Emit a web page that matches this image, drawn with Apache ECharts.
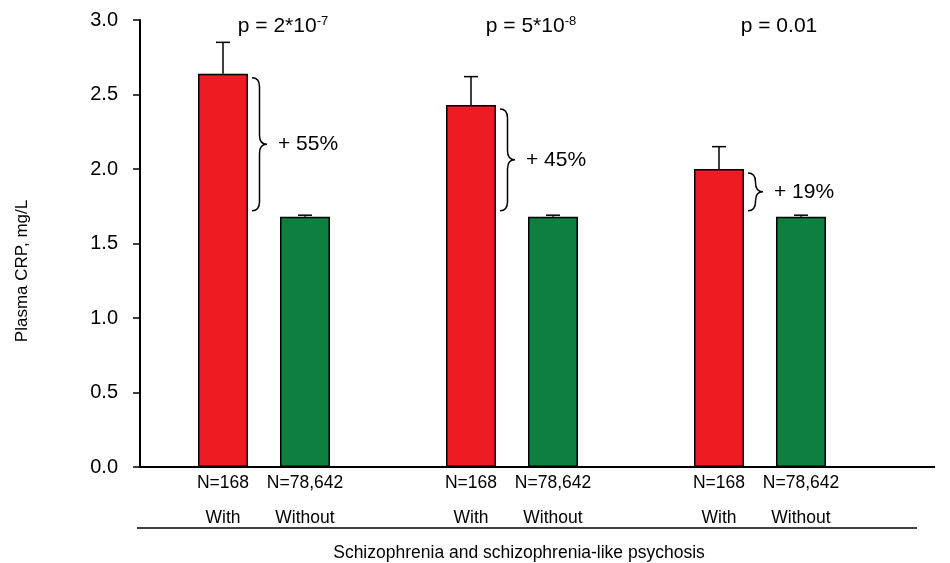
<!DOCTYPE html>
<html>
<head>
<meta charset="utf-8">
<script src="https://cdn.jsdelivr.net/npm/echarts@6/dist/echarts.min.js"></script>
<style>
html, body { margin: 0; background: #fff; }
#main { width: 950px; height: 563px; }
</style>
</head>
<body>
<div id="main"></div>
<script>
// values
var groups = ['g1', 'g2', 'g3'];
var withCRP = [2.64, 2.43, 2.00];
var withErr = [2.85, 2.62, 2.15];
var withoutCRP = [1.68, 1.68, 1.68];
var withoutErr = [1.69, 1.69, 1.69];
var withN = ['N=168', 'N=168', 'N=168'];
var withoutN = ['N=78,642', 'N=78,642', 'N=78,642'];
var increase = ['+ 55%', '+ 45%', '+ 19%'];
var pValues = ['p = 2*10{sup|-7}', 'p = 5*10{sup|-8}', 'p = 0.01'];
var yMin = 0, yMax = 3, yStep = 0.5;

var FONT = 'Liberation Sans, Arial, sans-serif';
var BAR_W = 50, BAR_GAP = 32;
var OFF = (BAR_W + BAR_GAP) / 2;

function errorBar(offset) {
    return function (params, api) {
        var base = api.coord([api.value(0), api.value(1)]);
        var top = api.coord([api.value(0), api.value(2)]);
        var x = base[0] + offset;
        return {
            type: 'group',
            children: [
                { type: 'line', shape: { x1: x, y1: base[1], x2: x, y2: top[1] },
                  style: { stroke: '#000', lineWidth: 1.5 } },
                { type: 'line', shape: { x1: x - 7, y1: top[1], x2: x + 7, y2: top[1] },
                  style: { stroke: '#000', lineWidth: 1.5 } }
            ]
        };
    };
}

function brace(params, api) {
    var i = api.value(0);
    var a = api.coord([i, api.value(1)]);
    var b = api.coord([i, api.value(2)]);
    var x0 = a[0] - OFF + BAR_W / 2 + 4;
    var y0 = a[1] + 4, y1 = b[1] - 6, ym = (y0 + y1) / 2;
    var w = 15, xm = x0 + w / 2;
    var r = Math.min(9, (y1 - y0) / 4);
    var d = 'M' + x0 + ' ' + y0 +
        ' Q' + xm + ' ' + y0 + ' ' + xm + ' ' + (y0 + r) +
        ' L' + xm + ' ' + (ym - r) +
        ' Q' + xm + ' ' + ym + ' ' + (x0 + w) + ' ' + ym +
        ' Q' + xm + ' ' + ym + ' ' + xm + ' ' + (ym + r) +
        ' L' + xm + ' ' + (y1 - r) +
        ' Q' + xm + ' ' + y1 + ' ' + x0 + ' ' + y1;
    var topY = api.coord([i, yMax])[1];
    return {
        type: 'group',
        children: [
            { type: 'path', shape: { pathData: d },
              style: { stroke: '#000', lineWidth: 1.5, fill: null } },
            { type: 'text', style: {
                text: increase[i], x: x0 + w + 11, y: ym,
                align: 'left', verticalAlign: 'middle',
                font: '21px ' + FONT, fill: '#000' } },
            { type: 'text', style: {
                text: pValues[i], x: a[0] + 19, y: topY + 6,
                align: 'center', verticalAlign: 'middle',
                fontFamily: FONT, fontSize: 21, fill: '#000',
                rich: {
                    sup: { fontFamily: FONT, fontSize: 13, verticalAlign: 'top', lineHeight: 22, fill: '#000' }
                } } }
        ]
    };
}

function barLabel(names, word) {
    return {
        show: true,
        position: 'bottom',
        distance: 3,
        formatter: function (p) {
            return '{n|' + names[p.dataIndex] + '}\n{w|' + word + '}';
        },
        rich: {
            n: { fontFamily: FONT, fontSize: 17.5, lineHeight: 26, color: '#000' },
            w: { fontFamily: FONT, fontSize: 17.5, lineHeight: 44, color: '#000' }
        }
    };
}

var chart = echarts.init(document.getElementById('main'));
var option = {
    animation: false,
    backgroundColor: '#fff',
    grid: { left: 140, right: 66, top: 20, bottom: 96 },
    xAxis: {
        type: 'category',
        data: groups,
        axisLine: { lineStyle: { color: '#000', width: 2 } },
        axisTick: { show: false },
        axisLabel: { show: false },
        splitLine: { show: false }
    },
    yAxis: {
        type: 'value',
        min: yMin, max: yMax, interval: yStep,
        axisLine: { show: true, lineStyle: { color: '#000', width: 2 } },
        axisTick: { show: true, length: 7, lineStyle: { color: '#000', width: 1.5 } },
        axisLabel: {
            margin: 22, color: '#000', fontFamily: FONT, fontSize: 20,
            formatter: function (v) { return v.toFixed(1); }
        },
        splitLine: { show: false }
    },
    series: [
        {
            name: 'With', type: 'bar', data: withCRP,
            barWidth: BAR_W, barGap: (BAR_GAP / BAR_W * 100) + '%',
            itemStyle: { color: '#ED1C24', borderColor: '#000', borderWidth: 1.5 },
            label: barLabel(withN, 'With')
        },
        {
            name: 'Without', type: 'bar', data: withoutCRP,
            barWidth: BAR_W,
            itemStyle: { color: '#0F7F3F', borderColor: '#000', borderWidth: 1.5 },
            label: barLabel(withoutN, 'Without')
        },
        {
            type: 'custom', renderItem: errorBar(-OFF), z: 3,
            data: groups.map(function (g, i) { return [i, withCRP[i], withErr[i]]; })
        },
        {
            type: 'custom', renderItem: errorBar(OFF), z: 3,
            data: groups.map(function (g, i) { return [i, withoutCRP[i], withoutErr[i]]; })
        },
        {
            type: 'custom', renderItem: brace, z: 3, clip: false,
            data: groups.map(function (g, i) { return [i, withCRP[i], withoutCRP[i]]; })
        }
    ]
};
chart.setOption(option);

// axis extension, lower rule and captions
var y0 = chart.convertToPixel({ yAxisIndex: 0 }, 0);
chart.setOption({
    graphic: [
        { type: 'line', shape: { x1: 884, y1: y0, x2: 935, y2: y0 },
          style: { stroke: '#000', lineWidth: 2 } },
        { type: 'line', shape: { x1: 137, y1: 528, x2: 917, y2: 528 },
          style: { stroke: '#000', lineWidth: 1.5 } },
        { type: 'text', x: 519, y: 553, style: {
            text: 'Schizophrenia and schizophrenia-like psychosis',
            font: '17.5px ' + FONT, fill: '#000', align: 'center', verticalAlign: 'middle' } },
        { type: 'text', x: 22, y: 271, rotation: Math.PI / 2, style: {
            text: 'Plasma CRP, mg/L',
            font: '17px ' + FONT, fill: '#000', align: 'center', verticalAlign: 'middle' } }
    ]
});
</script>
</body>
</html>
